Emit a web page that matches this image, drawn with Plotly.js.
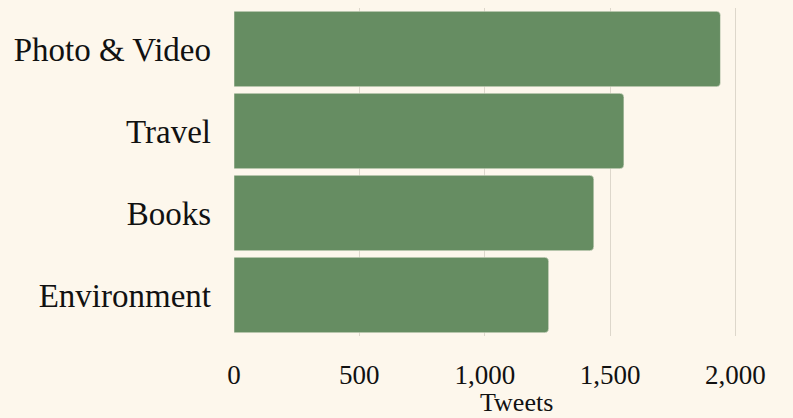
<!DOCTYPE html>
<html>
<head>
<meta charset="utf-8">
<script src="https://cdn.plot.ly/plotly-3.0.1.min.js"></script>
<style>html,body{margin:0;padding:0;background:#fdf7ec;}#chart{width:793px;height:418px;}</style>
</head>
<body>
<div id="chart"></div>
<script>
const categories = ["Photo & Video", "Travel", "Books", "Environment"];
const tweets = [1940, 1555, 1435, 1255];
const xTickValues = [0, 500, 1000, 1500, 2000];
const xTickLabels = ["0", "500", "1,000", "1,500", "2,000"];
const xAxisTitle = "Tweets";

const trace = {
  type: "bar",
  orientation: "h",
  y: categories,
  x: tweets,
  marker: {color: "#668d62", line: {color: "#fdf7ec", width: 0.5}, cornerradius: 4},
  hoverinfo: "x+y"
};

const layout = {
  width: 793,
  height: 418,
  paper_bgcolor: "#fdf7ec",
  plot_bgcolor: "#fdf7ec",
  margin: {l: 234, r: 55, t: 8, b: 82},
  bargap: 0.08,
  showlegend: false,
  font: {family: "Liberation Serif, DejaVu Serif, serif", color: "#111111"},
  xaxis: {
    range: [0, 2010],
    tickvals: xTickValues,
    ticktext: xTickLabels,
    showgrid: true,
    gridcolor: "#ddd7cb",
    gridwidth: 1,
    zeroline: false,
    showline: false,
    ticks: "",
    tickfont: {size: 27},
    ticklabelstandoff: 20,
    automargin: false
  },
  yaxis: {
    categoryorder: "array",
    categoryarray: categories.slice().reverse(),
    showgrid: false,
    zeroline: false,
    showline: false,
    ticks: "",
    tickfont: {size: 33},
    ticklabelstandoff: 22,
    automargin: false
  },
  annotations: [{
    text: xAxisTitle,
    xref: "paper", yref: "paper",
    x: 0.56, y: -0.203,
    xanchor: "center", yanchor: "middle",
    showarrow: false,
    font: {size: 26, color: "#111111"}
  }]
};

Plotly.newPlot("chart", [trace], layout, {displayModeBar: false, staticPlot: true});
</script>
</body>
</html>
